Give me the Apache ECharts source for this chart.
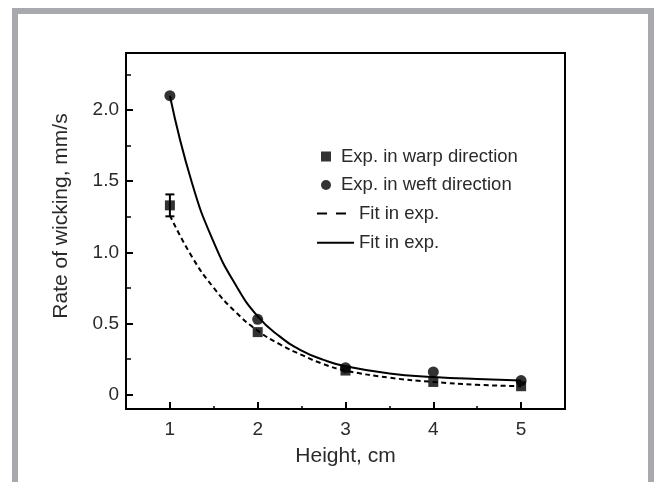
<!DOCTYPE html>
<html><head><meta charset="utf-8">
<script src="https://cdn.jsdelivr.net/npm/echarts@6/dist/echarts.min.js"></script>
<style>html,body{margin:0;padding:0;background:#fff}#c{width:654px;height:482px}</style>
</head><body><div id="c"></div>
<script>
// ---- data ----
const heights = [1, 2, 3, 4, 5];
const warpRate = [1.33, 0.44, 0.17, 0.09, 0.06];
const warpErr = [0.077, 0, 0, 0, 0];
const weftRate = [2.10, 0.53, 0.19, 0.16, 0.10];
const fitX = [1, 1.25, 1.5, 1.75, 2, 2.25, 2.5, 2.75, 3, 3.5, 4, 4.5, 5];
const fitWarp = [1.26, 0.97, 0.75, 0.58, 0.45, 0.355, 0.28, 0.215, 0.17, 0.12, 0.09, 0.07, 0.06];
const fitWeft = [2.10, 1.49, 1.07, 0.77, 0.55, 0.41, 0.31, 0.245, 0.20, 0.15, 0.125, 0.11, 0.10];
const xTickValues = [1, 2, 3, 4, 5];
const xMinorTickValues = [1.5, 2.5, 3.5, 4.5];
const yTickValues = [0, 0.5, 1.0, 1.5, 2.0];
const yTickLabels = ['0', '0.5', '1.0', '1.5', '2.0'];
const yMinorTickValues = [0.25, 0.75, 1.25, 1.75, 2.25];
const legendLabels = {
  warp: 'Exp. in warp direction',
  weft: 'Exp. in weft direction',
  fitWarp: 'Fit in exp.',
  fitWeft: 'Fit in exp.'
};
const xName = 'Height, cm';
const yName = 'Rate of wicking, mm/s';

const FONT = '"Liberation Sans", Arial, sans-serif';
const TXT = '#2a2a2a';
const chart = echarts.init(document.getElementById('c'), null, {renderer: 'canvas'});

const zip = (xs, ys) => xs.map((x, i) => [x, ys[i]]);
const zip3 = (xs, ys, es) => xs.map((x, i) => [x, ys[i], es[i]]);

const yLabelMap = {};
yTickValues.forEach((v, i) => { yLabelMap[v.toFixed(2)] = yTickLabels[i]; });

const option = {
  backgroundColor: '#fff',
  animation: false,
  textStyle: {fontFamily: FONT},
  graphic: [
    {type: 'rect', shape: {x: 12, y: 8, width: 6, height: 480}, style: {fill: '#a7a9ac'}},
    {type: 'rect', shape: {x: 12, y: 8, width: 642, height: 6}, style: {fill: '#a7a9ac'}},
    {type: 'rect', shape: {x: 648, y: 8, width: 6, height: 480}, style: {fill: '#a7a9ac'}}
  ],
  grid: {left: 126, right: 89, top: 53, bottom: 73, show: true, borderColor: '#000', borderWidth: 2, containLabel: false},
  xAxis: [
    {
      type: 'value', min: 0.5, max: 5.5, position: 'bottom',
      name: xName, nameLocation: 'middle', nameGap: 37,
      nameTextStyle: {fontSize: 21, color: TXT, fontFamily: FONT},
      axisLine: {show: true, onZero: false, lineStyle: {color: '#000', width: 2}},
      axisTick: {show: true, inside: true, length: 7, customValues: xTickValues, lineStyle: {color: '#000', width: 2}},
      axisLabel: {show: true, customValues: xTickValues, fontSize: 19, margin: 11, color: TXT, fontFamily: FONT},
      splitLine: {show: false}
    },
    {
      type: 'value', min: 0.5, max: 5.5, position: 'bottom',
      axisLine: {show: false, onZero: false},
      axisTick: {show: true, inside: true, length: 3, customValues: xMinorTickValues, lineStyle: {color: '#000', width: 1.5}},
      axisLabel: {show: false},
      splitLine: {show: false}
    }
  ],
  yAxis: [
    {
      type: 'value', min: -0.1, max: 2.4, position: 'left',
      name: yName, nameLocation: 'middle', nameGap: 54, nameRotate: 90,
      nameTextStyle: {fontSize: 21, color: TXT, fontFamily: FONT, padding: [0, 0, 0, 30]},
      axisLine: {show: true, onZero: false, lineStyle: {color: '#000', width: 2}},
      axisTick: {show: true, inside: true, length: 7, customValues: yTickValues, lineStyle: {color: '#000', width: 2}},
      axisLabel: {show: true, customValues: yTickValues, fontSize: 19, margin: 7, color: TXT, fontFamily: FONT,
        formatter: v => yLabelMap[Number(v).toFixed(2)] ?? String(v)},
      splitLine: {show: false}
    },
    {
      type: 'value', min: -0.1, max: 2.4, position: 'left',
      axisLine: {show: false, onZero: false},
      axisTick: {show: true, inside: true, length: 5, customValues: yMinorTickValues, lineStyle: {color: '#000', width: 1.5}},
      axisLabel: {show: false},
      splitLine: {show: false}
    }
  ],
  legend: [
    {
      data: [{name: 'warp', icon: 'rect'}, {name: 'weft', icon: 'circle'}],
      orient: 'vertical', left: 316, top: 142, itemWidth: 10, itemHeight: 10, itemGap: 9.5,
      formatter: n => legendLabels[n],
      textStyle: {fontSize: 18.5, lineHeight: 18, color: TXT, fontFamily: FONT, padding: [0, 0, 0, 5]},
      selectedMode: false
    },
    {
      data: [{name: 'fitWarp', lineStyle: {type: [10, 9]}}, 'fitWeft'],
      orient: 'vertical', left: 311, top: 199, itemWidth: 37, itemHeight: 10, itemGap: 10.3,
      formatter: n => legendLabels[n],
      itemStyle: {opacity: 0},
      textStyle: {fontSize: 18.5, lineHeight: 18, color: TXT, fontFamily: FONT},
      selectedMode: false
    }
  ],
  series: [
    {
      name: 'fitWarp', type: 'line', data: zip(fitX, fitWarp), smooth: true,
      showSymbol: false, symbol: 'none', z: 2,
      lineStyle: {color: '#000', width: 2, type: [5, 3.5]}, itemStyle: {color: '#000'}
    },
    {
      name: 'fitWeft', type: 'line', data: zip(fitX, fitWeft), smooth: true,
      showSymbol: false, symbol: 'none', z: 2,
      lineStyle: {color: '#000', width: 2, type: 'solid'}, itemStyle: {color: '#000'}
    },
    {
      name: 'warpErr', type: 'custom', data: zip3(heights, warpRate, warpErr), z: 3,
      renderItem: (params, api) => {
        const x = api.value(0), y = api.value(1), e = api.value(2);
        if (!e) return null;
        const t = api.coord([x, y + e]), b = api.coord([x, y - e]);
        const c = 4.5, st = {stroke: '#000', lineWidth: 2};
        return {type: 'group', children: [
          {type: 'line', shape: {x1: t[0], y1: t[1], x2: b[0], y2: b[1]}, style: st},
          {type: 'line', shape: {x1: t[0] - c, y1: t[1], x2: t[0] + c, y2: t[1]}, style: st},
          {type: 'line', shape: {x1: b[0] - c, y1: b[1], x2: b[0] + c, y2: b[1]}, style: st}
        ]};
      }
    },
    {
      name: 'warp', type: 'scatter', data: zip(heights, warpRate), symbol: 'rect', symbolSize: 10, z: 4,
      itemStyle: {color: '#000'}
    },
    {
      name: 'weft', type: 'scatter', data: zip(heights, weftRate), symbol: 'circle', symbolSize: 11, z: 4,
      itemStyle: {color: '#000'}
    }
  ]
};
chart.setOption(option);
</script>
</body></html>
